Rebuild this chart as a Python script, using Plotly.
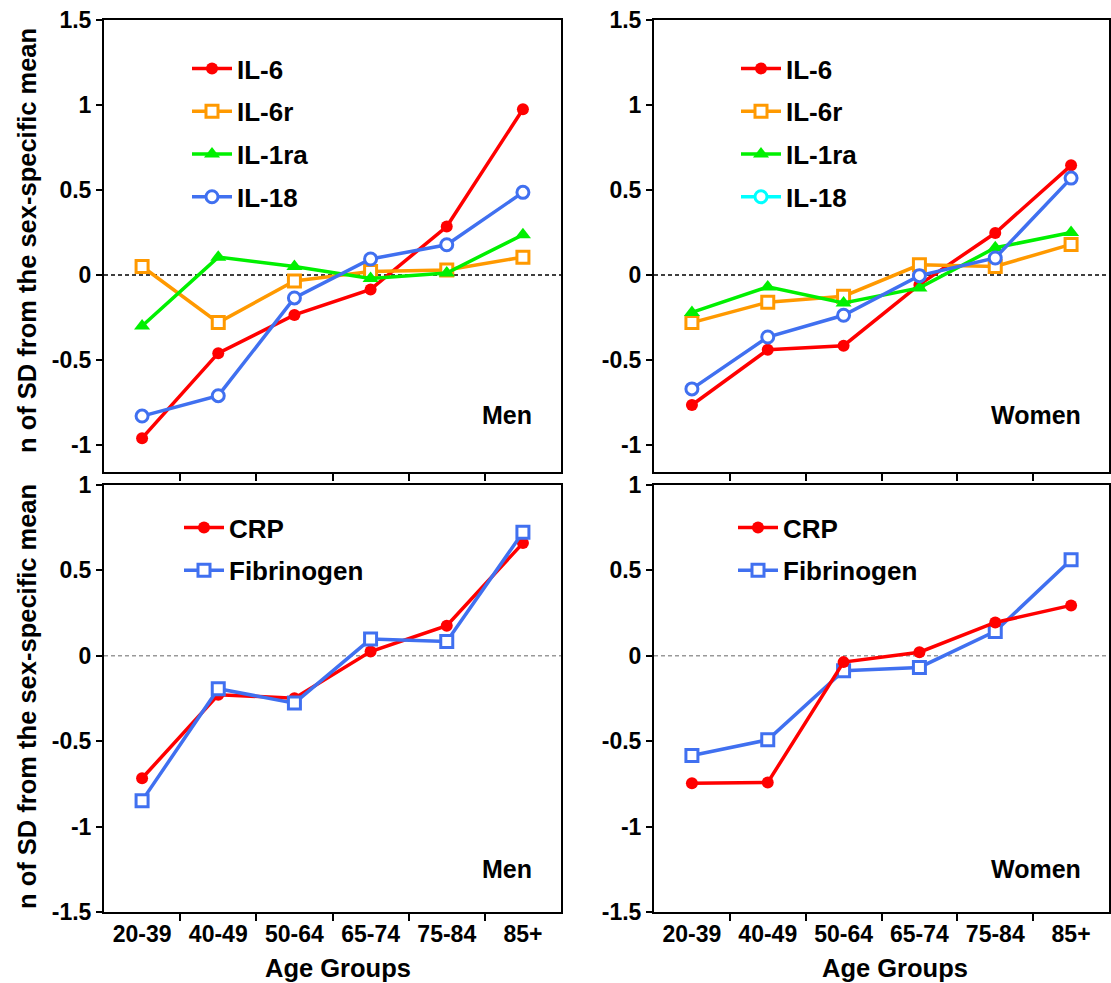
import plotly.graph_objects as go

age_groups = ["20-39", "40-49", "50-64", "65-74", "75-84", "85+"]

men_il6 = [-0.96, -0.46, -0.235, -0.085, 0.285, 0.975]
men_il6r = [0.05, -0.28, -0.035, 0.02, 0.03, 0.105]
men_il1ra = [-0.30, 0.105, 0.05, -0.02, 0.012, 0.237]
men_il18 = [-0.83, -0.71, -0.135, 0.094, 0.178, 0.486]

women_il6 = [-0.765, -0.44, -0.416, -0.057, 0.247, 0.645]
women_il6r = [-0.28, -0.16, -0.125, 0.06, 0.05, 0.18]
women_il1ra = [-0.22, -0.07, -0.165, -0.076, 0.16, 0.25]
women_il18 = [-0.67, -0.365, -0.237, -0.004, 0.10, 0.57]

men_crp = [-0.717, -0.228, -0.248, 0.025, 0.176, 0.66]
men_fib = [-0.848, -0.193, -0.277, 0.098, 0.084, 0.723]
women_crp = [-0.746, -0.742, -0.037, 0.021, 0.195, 0.295]
women_fib = [-0.584, -0.492, -0.088, -0.068, 0.143, 0.5625]

RED = "#FF0000"
ORANGE = "#FF9900"
GREEN = "#00F000"
BLUE = "#4070F0"
CYAN = "#00FFFF"
FONT = "Liberation Sans, Arial, sans-serif"

xpos = list(range(len(age_groups)))

fig = go.Figure()

LW = 3.5
MS = 12


def add(y, name, color, symbol, filled, xa, ya, legend, show=True, size=MS):
    marker = dict(symbol=symbol, size=size, color=color if filled else "white",
                  line=dict(color=color, width=0 if filled else 3))
    fig.add_trace(go.Scatter(
        x=xpos, y=y, mode="lines+markers", name=name,
        line=dict(color=color, width=LW), marker=marker,
        xaxis=xa, yaxis=ya, legend=legend, showlegend=show,
        legendgroup=name + legend, cliponaxis=False))


def legend_only(name, color, symbol, xa, ya, legend):
    fig.add_trace(go.Scatter(
        x=[None], y=[None], mode="lines+markers", name=name,
        line=dict(color=color, width=LW),
        marker=dict(symbol=symbol, size=MS, color="white", line=dict(color=color, width=3)),
        xaxis=xa, yaxis=ya, legend=legend, legendgroup=name + legend + "only"))


# top-left (men)
add(men_il6, "IL-6", RED, "circle", True, "x", "y", "legend")
add(men_il6r, "IL-6r", ORANGE, "square", False, "x", "y", "legend")
add(men_il1ra, "IL-1ra", GREEN, "triangle-up", True, "x", "y", "legend", size=14)
add(men_il18, "IL-18", BLUE, "circle", False, "x", "y", "legend")

# top-right (women)
add(women_il6, "IL-6", RED, "circle", True, "x2", "y2", "legend2")
add(women_il6r, "IL-6r", ORANGE, "square", False, "x2", "y2", "legend2")
add(women_il1ra, "IL-1ra", GREEN, "triangle-up", True, "x2", "y2", "legend2", size=14)
add(women_il18, "IL-18", BLUE, "circle", False, "x2", "y2", "legend2", show=False)
# legend entry for IL-18 is cyan in the original
legend_only("IL-18", CYAN, "circle", "x2", "y2", "legend2")

# bottom-left (men)
add(men_crp, "CRP", RED, "circle", True, "x3", "y3", "legend3")
add(men_fib, "Fibrinogen", BLUE, "square", False, "x3", "y3", "legend3")

# bottom-right (women)
add(women_fib, "Fibrinogen", BLUE, "square", False, "x4", "y4", "legend4", show=False)
add(women_crp, "CRP", RED, "circle", True, "x4", "y4", "legend4")
legend_only("Fibrinogen", BLUE, "square", "x4", "y4", "legend4")

W, H = 1111, 983
left_dom = [104 / W, 561 / W]
right_dom = [654 / W, 1109 / W]
top_dom = [1 - 472 / H, 1 - 20 / H]
bot_dom = [1 - 912 / H, 1 - 485 / H]

tickfont = dict(family=FONT, size=23, color="black", weight="bold")


def xaxis(dom, anchor, labels):
    return dict(domain=dom, anchor=anchor, range=[-0.5, 5.5],
                tickmode="array", tickvals=xpos,
                ticktext=age_groups if labels else [""] * len(xpos),
                ticks="", showticklabels=labels, tickfont=tickfont,
                showline=True, linecolor="black", linewidth=2, mirror=True,
                showgrid=False, zeroline=False,
                minor=dict(tickmode="array", tickvals=[i + 0.5 for i in xpos[:-1]],
                           ticks="outside", ticklen=7, tickwidth=2, tickcolor="black",
                           showgrid=False))


def yaxis(dom, anchor, rng, vals):
    return dict(domain=dom, anchor=anchor, range=rng,
                tickmode="array", tickvals=vals, ticktext=[f"{v:g}" for v in vals],
                ticks="outside", ticklen=6, tickwidth=2, tickcolor="black",
                tickfont=tickfont,
                showline=True, linecolor="black", linewidth=2, mirror=True,
                showgrid=False, zeroline=False)


top_vals = [-1, -0.5, 0, 0.5, 1, 1.5]
bot_vals = [-1.5, -1, -0.5, 0, 0.5, 1]
top_rng = [-1.159, 1.5]
bot_rng = [-1.5, 1.0]

legfont = dict(family=FONT, size=26, color="black", weight="bold")


def legend(x, y):
    return dict(x=x, y=y, xref="paper", yref="paper", xanchor="left", yanchor="top",
                bgcolor="rgba(0,0,0,0)", font=legfont, traceorder="grouped",
                tracegroupgap=6, itemwidth=40)


fig.update_layout(
    width=W, height=H, margin=dict(l=0, r=0, t=0, b=0, autoexpand=False),
    paper_bgcolor="white", plot_bgcolor="white",
    font=dict(family=FONT, color="black"),
    xaxis=xaxis(left_dom, "y", False),
    xaxis2=xaxis(right_dom, "y2", False),
    xaxis3=xaxis(left_dom, "y3", True),
    xaxis4=xaxis(right_dom, "y4", True),
    yaxis=yaxis(top_dom, "x", top_rng, top_vals),
    yaxis2=yaxis(top_dom, "x2", top_rng, top_vals),
    yaxis3=yaxis(bot_dom, "x3", bot_rng, bot_vals),
    yaxis4=yaxis(bot_dom, "x4", bot_rng, bot_vals),
    legend=legend(187 / W, 1 - 45 / H),
    legend2=legend(736 / W, 1 - 45 / H),
    legend3=legend(179 / W, 1 - 504 / H),
    legend4=legend(733 / W, 1 - 504 / H),
)

# zero reference lines
for xa, ya, col in [("x", "y", "black"), ("x2", "y2", "black"),
                    ("x3", "y3", "#999999"), ("x4", "y4", "#999999")]:
    fig.add_shape(type="line", xref=f"{xa} domain", yref=ya, x0=0, x1=1, y0=0, y1=0,
                  line=dict(color=col, width=1.5, dash="4px,3px"), layer="below")

labfont = dict(family=FONT, size=25, color="black", weight="bold")
titlefont = dict(family=FONT, size=25.5, color="black", weight="bold")

ann = []
for xa, ya, txt, yy in [("x", "y", "Men", 0.126), ("x2", "y2", "Women", 0.126),
                        ("x3", "y3", "Men", 0.1), ("x4", "y4", "Women", 0.1)]:
    ann.append(dict(xref=f"{xa} domain", yref=f"{ya} domain", x=0.942, y=yy,
                    xanchor="right", yanchor="middle", text=txt, showarrow=False,
                    font=labfont))
for cy in [241, 697]:
    ann.append(dict(xref="paper", yref="paper", x=27 / W, y=1 - cy / H,
                    xanchor="center", yanchor="middle", textangle=-90,
                    text="n of SD from the sex-specific mean", showarrow=False,
                    font=titlefont))
for cx in [338, 895]:
    ann.append(dict(xref="paper", yref="paper", x=cx / W, y=1 - 968 / H,
                    xanchor="center", yanchor="middle", text="Age Groups",
                    showarrow=False, font=titlefont))
fig.update_layout(annotations=ann)

fig.write_html("out.html")
